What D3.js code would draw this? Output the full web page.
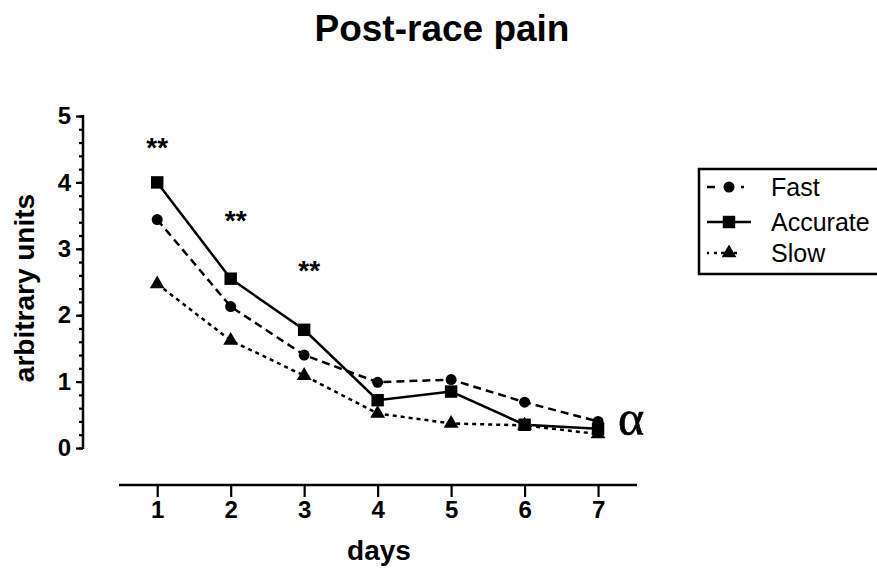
<!DOCTYPE html>
<html>
<head>
<meta charset="utf-8">
<script src="https://cdn.jsdelivr.net/npm/d3@7"></script>
<style>
  html, body { margin: 0; padding: 0; background: #fff; }
  svg { display: block; }
  text { font-family: "Liberation Sans", Arial, sans-serif; fill: #000; }
</style>
</head>
<body>
<svg id="chart" width="877" height="570"></svg>
<script>
// Days after the race
const days = [1, 2, 3, 4, 5, 6, 7];
// Mean pain score per group
const fast     = [3.44, 2.13, 1.40, 0.99, 1.03, 0.69, 0.40];
const accurate = [4.00, 2.55, 1.78, 0.72, 0.85, 0.35, 0.29];
const slow     = [2.47, 1.62, 1.09, 0.52, 0.37, 0.34, 0.21];
const seriesNames = ["Fast", "Accurate", "Slow"];
const yTicks = [0, 1, 2, 3, 4, 5];
// Significance marks: day and height
const sigDays = [1, 2, 3];
const sigY = [4.56, 3.46, 2.71];

const svg = d3.select("#chart");

const x = d3.scaleLinear().domain([0.48, 7.53]).range([119, 637]);
const y = d3.scaleLinear().domain([0, 5]).range([448, 116]);
const yAxisX = 83;
const xAxisY = 485;

const styles = {
  Fast:     { dash: "8,5", symbol: d3.symbolCircle, size: 95 },
  Accurate: { dash: null,  symbol: d3.symbolSquare, size: 155 },
  Slow:     { dash: "4,4", symbol: d3.symbolTriangle, size: 95 }
};
const data = { Fast: fast, Accurate: accurate, Slow: slow };

// Title
svg.append("text")
  .attr("x", 442).attr("y", 41)
  .attr("text-anchor", "middle")
  .style("font-size", "37px").style("font-weight", "bold")
  .text("Post-race pain");

// Y axis with minor ticks
const yAxis = svg.append("g").attr("transform", `translate(${yAxisX},0)`);
yAxis.call(d3.axisLeft(y).tickValues(d3.range(0, 5.001, 0.2)).tickSize(4).tickFormat(""))
  .call(g => g.select(".domain").remove());
yAxis.call(g => g.append("g").call(d3.axisLeft(y).tickValues(yTicks).tickSize(7).tickPadding(5).tickFormat(d3.format("d"))));
yAxis.selectAll("line").attr("stroke", "#000").attr("stroke-width", 2.2);
yAxis.append("line").attr("x1", 0).attr("x2", 0).attr("y1", y(5) - 1).attr("y2", y(0) + 1)
  .attr("stroke", "#000").attr("stroke-width", 2.5);
yAxis.selectAll("text").style("font-size", "24px").style("font-weight", "bold").attr("fill", "#000");
yAxis.selectAll(".domain").remove();

// X axis
const xAxis = svg.append("g").attr("transform", `translate(0,${xAxisY})`);
xAxis.call(d3.axisBottom(x).tickValues(days).tickSize(12).tickPadding(4).tickFormat(d3.format("d")));
xAxis.select(".domain").remove();
xAxis.append("line").attr("x1", x.range()[0]).attr("x2", x.range()[1])
  .attr("stroke", "#000").attr("stroke-width", 2.5);
xAxis.selectAll(".tick line").attr("stroke", "#000").attr("stroke-width", 2.2);
xAxis.selectAll("text").style("font-size", "24px").style("font-weight", "bold").attr("fill", "#000");

// Axis titles
svg.append("text")
  .attr("x", 379).attr("y", 560)
  .attr("text-anchor", "middle")
  .style("font-size", "28px").style("font-weight", "bold")
  .text("days");
svg.append("text")
  .attr("transform", "translate(34,288) rotate(-90)")
  .attr("text-anchor", "middle")
  .style("font-size", "28px").style("font-weight", "bold")
  .text("arbitrary units");

// Lines and markers
const line = d3.line().x((d, i) => x(days[i])).y(d => y(d));
seriesNames.forEach(name => {
  const st = styles[name];
  svg.append("path")
    .datum(data[name])
    .attr("d", line)
    .attr("fill", "none")
    .attr("stroke", "#000")
    .attr("stroke-width", 2.5)
    .attr("stroke-dasharray", st.dash);
  svg.append("g").selectAll("path")
    .data(data[name])
    .join("path")
    .attr("transform", (d, i) => `translate(${x(days[i])},${y(d)})`)
    .attr("d", d3.symbol().type(st.symbol).size(st.size))
    .attr("fill", "#000");
});

// Significance asterisks
svg.append("g").selectAll("text")
  .data(sigDays)
  .join("text")
  .attr("x", (d, i) => x(d) + (i === 0 ? 0 : 5))
  .attr("y", (d, i) => y(sigY[i]) + 12)
  .attr("text-anchor", "middle")
  .style("font-size", "28px").style("font-weight", "bold")
  .text("**");

// Alpha mark after the last day
svg.append("text")
  .attr("x", x(7) + 20).attr("y", y(accurate[6]) + 6)
  .style("font-family", "'Liberation Serif', 'Times New Roman', serif")
  .style("font-size", "50px")
  .style("stroke", "#000").style("stroke-width", 0.6)
  .text("α");

// Legend
const legend = svg.append("g").attr("transform", "translate(699,169)");
legend.append("rect")
  .attr("x", 0).attr("y", 0).attr("width", 200).attr("height", 105)
  .attr("fill", "none").attr("stroke", "#000").attr("stroke-width", 2.5);
const legendY = [18, 53, 84];
const legendDash = { Fast: "8,10,8,8,3,30", Accurate: null, Slow: "2,5,3,4,8,5,3,30" };
seriesNames.forEach((name, i) => {
  const st = styles[name];
  const g = legend.append("g").attr("transform", `translate(0,${legendY[i]})`);
  g.append("line")
    .attr("x1", 8).attr("x2", 52)
    .attr("stroke", "#000").attr("stroke-width", 2.5)
    .attr("stroke-dasharray", legendDash[name]);
  g.append("path")
    .attr("transform", "translate(30,0)")
    .attr("d", d3.symbol().type(st.symbol).size(st.size))
    .attr("fill", "#000");
  g.append("text")
    .attr("x", 72).attr("y", 0)
    .attr("dy", "0.35em")
    .style("font-size", "25px")
    .text(name);
});
</script>
</body>
</html>
